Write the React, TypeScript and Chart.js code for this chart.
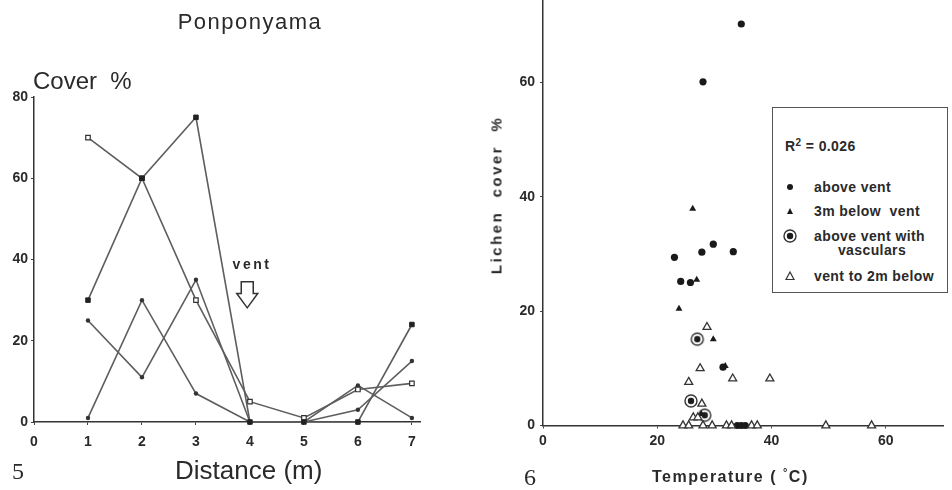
import React, { useEffect, useRef } from "react";
import { Chart, registerables } from "chart.js";

Chart.register(...registerables);

// ---------- Figure 5: Ponponyama transect ----------
const distances = [1, 2, 3, 4, 5, 6, 7];
const coverFilledSquares = [30, 60, 75, 0, 0, 0, 24];
const coverOpenSquares = [70, 60, 30, 5, 1, 8, 9.5];
const coverDotsA = [1, 30, 7, 0, 0, 9, 1];
const coverDotsB = [25, 11, 35, 0, 0, 3, 15];
const distanceTicks = [0, 1, 2, 3, 4, 5, 6, 7];
const coverTicks = [0, 20, 40, 60, 80];
const ventPosition = 3.95;
const ventArrowTop = 34.5;
const ventArrowBottom = 28.1;

// ---------- Figure 6: temperature vs lichen cover ----------
const aboveVentTemp = [34.7, 28.0, 29.8, 23.0, 27.8, 33.3, 24.1, 25.8, 31.5, 34.0, 34.7, 35.4];
const aboveVentCover = [70.2, 60.1, 31.7, 29.4, 30.3, 30.4, 25.2, 25.0, 10.2, 0, 0, 0];
const below3mTemp = [26.2, 26.9, 23.8, 29.8, 31.9, 27.7];
const below3mCover = [37.9, 25.5, 20.4, 15.1, 10.4, 2.0];
const vascularTemp = [27.0, 25.9, 28.3];
const vascularCover = [15.1, 4.3, 1.8];
const ventTo2mTemp = [28.7, 27.5, 25.5, 33.2, 39.7, 27.8, 26.3, 27.1, 24.5, 25.5, 28.0, 29.6, 32.1, 33.0, 36.5, 37.5, 49.5, 57.5];
const ventTo2mCover = [17.2, 10.0, 7.6, 8.2, 8.2, 3.8, 1.4, 1.4, 0, 0, 0, 0, 0, 0, 0, 0, 0, 0];
const temperatureTicks = [0, 20, 40, 60];
const lichenTicks = [0, 20, 40, 60];

const INK = "#2a2a2a";
const LINE = "#5e5e5e";
const FONT = '"Liberation Sans", Arial, sans-serif';

function pts(xs: number[], ys: number[]) {
  return xs.map((x, i) => ({ x, y: ys[i] }));
}

function axis(ticks: number[], min: number, max: number, which: "x" | "y", size: number, padding: number) {
  return {
    type: "linear",
    min,
    max,
    afterBuildTicks: (s: any) => {
      s.ticks = ticks.map((v) => ({ value: v }));
    },
    afterFit: (s: any) => {
      if (which === "x") s.height = size;
      else s.width = size;
      s.paddingLeft = 0;
      s.paddingRight = 0;
      s.paddingTop = 0;
      s.paddingBottom = 0;
    },
    border: { display: true, color: "#333", width: 1.5 },
    grid: { display: true, drawOnChartArea: false, drawTicks: true, tickLength: 3, color: "#444", lineWidth: 1 },
    ticks: {
      autoSkip: false,
      maxRotation: 0,
      padding,
      color: INK,
      font: { family: FONT, size: 14, weight: "bold" },
      callback: (v: any) => String(v),
    },
  };
}

function circledDot(): HTMLCanvasElement {
  const c = document.createElement("canvas");
  c.width = 16;
  c.height = 16;
  const g = c.getContext("2d")!;
  g.beginPath();
  g.arc(8, 8, 6, 0, Math.PI * 2);
  g.fillStyle = "#fff";
  g.fill();
  g.lineWidth = 1.4;
  g.strokeStyle = "#333";
  g.stroke();
  g.beginPath();
  g.arc(8, 8, 3.2, 0, Math.PI * 2);
  g.fillStyle = "#1c1c1c";
  g.fill();
  return c;
}

const ventArrowPlugin = {
  id: "ventArrow",
  afterDatasetsDraw(chart: any) {
    const { ctx, scales } = chart;
    const cx = scales.x.getPixelForValue(ventPosition);
    const top = scales.y.getPixelForValue(ventArrowTop);
    const bottom = scales.y.getPixelForValue(ventArrowBottom);
    const mid = top + (bottom - top) * 0.45;
    const sw = 6, hw = 10.5;
    ctx.save();
    ctx.beginPath();
    ctx.moveTo(cx - sw, top);
    ctx.lineTo(cx + sw, top);
    ctx.lineTo(cx + sw, mid);
    ctx.lineTo(cx + hw, mid);
    ctx.lineTo(cx, bottom);
    ctx.lineTo(cx - hw, mid);
    ctx.lineTo(cx - sw, mid);
    ctx.closePath();
    ctx.fillStyle = "#fff";
    ctx.fill();
    ctx.lineWidth = 1.5;
    ctx.strokeStyle = "#333";
    ctx.stroke();
    ctx.restore();
  },
};

const baseOptions = {
  responsive: false,
  maintainAspectRatio: false,
  animation: false,
  events: [],
  plugins: { legend: { display: false }, tooltip: { enabled: false }, title: { display: false } },
};

function Txt(props: { x: number; y: number; anchor?: "left" | "center"; style?: any; children: any }) {
  const { x, y, anchor = "left", style, children } = props;
  return (
    <div
      style={{
        position: "absolute",
        left: x,
        top: y,
        transform: anchor === "center" ? "translate(-50%, -50%)" : "translateY(-50%)",
        whiteSpace: "pre",
        lineHeight: 1,
        color: INK,
        fontFamily: FONT,
        ...style,
      }}
    >
      {children}
    </div>
  );
}

export default function App() {
  const leftRef = useRef<HTMLCanvasElement>(null);
  const rightRef = useRef<HTMLCanvasElement>(null);

  useEffect(() => {
    const lineDs = (data: number[], style: any) => ({
      data: pts(distances, data),
      borderColor: LINE,
      borderWidth: 1.6,
      tension: 0,
      clip: false,
      ...style,
    });
    const left = new Chart(leftRef.current!, {
      type: "line",
      data: {
        datasets: [
          lineDs(coverFilledSquares, { pointStyle: "rect", pointRadius: 3.2, pointBackgroundColor: "#222", pointBorderColor: "#222", pointBorderWidth: 1 }),
          lineDs(coverOpenSquares, { pointStyle: "rect", pointRadius: 3.2, pointBackgroundColor: "#fff", pointBorderColor: "#333", pointBorderWidth: 1.2 }),
          lineDs(coverDotsA, { pointStyle: "circle", pointRadius: 2.2, pointBackgroundColor: "#333", pointBorderColor: "#333", pointBorderWidth: 0 }),
          lineDs(coverDotsB, { pointStyle: "circle", pointRadius: 2.2, pointBackgroundColor: "#333", pointBorderColor: "#333", pointBorderWidth: 0 }),
        ],
      },
      options: {
        ...baseOptions,
        layout: { padding: { left: 0, top: 97, right: 50, bottom: 0 } },
        scales: {
          x: axis(distanceTicks, 0, 7.15, "x", 68, 9),
          y: axis(coverTicks, 0, 80, "y", 34, 3),
        },
      } as any,
      plugins: [ventArrowPlugin],
    } as any);

    const cd = circledDot();
    const right = new Chart(rightRef.current!, {
      type: "scatter",
      data: {
        datasets: [
          { data: pts(ventTo2mTemp, ventTo2mCover), pointStyle: "triangle", pointRadius: 4.6, pointBackgroundColor: "#fff", pointBorderColor: "#333", pointBorderWidth: 1.3, clip: false },
          { data: pts(aboveVentTemp, aboveVentCover), pointStyle: "circle", pointRadius: 3.6, pointBackgroundColor: "#1a1a1a", pointBorderColor: "#1a1a1a", pointBorderWidth: 0, clip: false },
          { data: pts(below3mTemp, below3mCover), pointStyle: "triangle", pointRadius: 4, pointBackgroundColor: "#1a1a1a", pointBorderColor: "#1a1a1a", pointBorderWidth: 0, clip: false },
          { data: pts(vascularTemp, vascularCover), pointStyle: cd, pointRadius: 6, clip: false },
        ],
      },
      options: {
        ...baseOptions,
        layout: { padding: { left: 0, top: 20, right: 9, bottom: 0 } },
        scales: {
          x: axis(temperatureTicks, 0, 70, "x", 64.5, 4),
          y: axis(lichenTicks, 0, 74.4, "y", 73, 5),
        },
      } as any,
    } as any);

    return () => {
      left.destroy();
      right.destroy();
    };
  }, []);

  const legendText = { fontWeight: "bold", fontSize: 14, letterSpacing: 0.4 };

  return (
    <div style={{ position: "absolute", left: 0, top: 0, width: 952, height: 490, background: "#fff", overflow: "hidden" }}>
      <canvas ref={leftRef} width={470} height={490} style={{ position: "absolute", left: 0, top: 0, width: 470, height: 490 }} />
      <canvas ref={rightRef} width={482} height={510} style={{ position: "absolute", left: 470, top: -20, width: 482, height: 510 }} />

      {/* Figure 5 texts */}
      <Txt x={250} y={22} anchor="center" style={{ fontSize: 22, letterSpacing: 1.5 }}>Ponponyama</Txt>
      <Txt x={33} y={81} style={{ fontSize: 24 }}>{"Cover  %"}</Txt>
      <Txt x={175} y={470} style={{ fontSize: 26 }}>Distance (m)</Txt>
      <Txt x={12} y={471} style={{ fontSize: 24, fontFamily: '"Liberation Serif", "DejaVu Serif", serif' }}>5</Txt>
      <Txt x={252} y={264} anchor="center" style={{ fontSize: 14, fontWeight: "bold", letterSpacing: 2.5 }}>vent</Txt>

      {/* Figure 6 texts */}
      <div
        style={{
          position: "absolute",
          left: 496,
          top: 195,
          transform: "translate(-50%, -50%) rotate(-90deg)",
          whiteSpace: "pre",
          lineHeight: 1,
          color: INK,
          fontFamily: FONT,
          fontSize: 15,
          fontWeight: "bold",
          letterSpacing: 2.5,
        }}
      >
        {"Lichen  cover  %"}
      </div>
      <Txt x={652} y={477} style={{ fontSize: 16, fontWeight: "bold", letterSpacing: 1.5 }}>
        {"Temperature ( "}
        <span style={{ fontSize: 11, position: "relative", top: -6 }}>°</span>
        {"C)"}
      </Txt>
      <Txt x={524} y={477} style={{ fontSize: 24, fontFamily: '"Liberation Serif", "DejaVu Serif", serif' }}>6</Txt>

      {/* Legend box */}
      <div style={{ position: "absolute", left: 772, top: 107, width: 176, height: 186, border: "1px solid #555", boxSizing: "border-box", background: "#fff" }} />
      <Txt x={785} y={146} style={legendText}>
        R<span style={{ fontSize: 10, position: "relative", top: -5 }}>2</span>
        {" = 0.026"}
      </Txt>
      <svg style={{ position: "absolute", left: 782, top: 179 }} width={16} height={16}>
        <circle cx={8} cy={8} r={3} fill="#1a1a1a" />
      </svg>
      <Txt x={814} y={187} style={legendText}>above vent</Txt>
      <svg style={{ position: "absolute", left: 782, top: 203 }} width={16} height={16}>
        <polygon points="8,5 11,11 5,11" fill="#1a1a1a" />
      </svg>
      <Txt x={814} y={211} style={legendText}>{"3m below  vent"}</Txt>
      <svg style={{ position: "absolute", left: 782, top: 228 }} width={16} height={16}>
        <circle cx={8} cy={8} r={6} fill="#fff" stroke="#333" strokeWidth={1.4} />
        <circle cx={8} cy={8} r={3.2} fill="#1c1c1c" />
      </svg>
      <Txt x={814} y={236} style={legendText}>above vent with</Txt>
      <Txt x={872} y={250} anchor="center" style={legendText}>vasculars</Txt>
      <svg style={{ position: "absolute", left: 782, top: 268 }} width={16} height={16}>
        <polygon points="8,4 12,11.5 4,11.5" fill="#fff" stroke="#333" strokeWidth={1.2} />
      </svg>
      <Txt x={814} y={276} style={legendText}>vent to 2m below</Txt>
    </div>
  );
}
